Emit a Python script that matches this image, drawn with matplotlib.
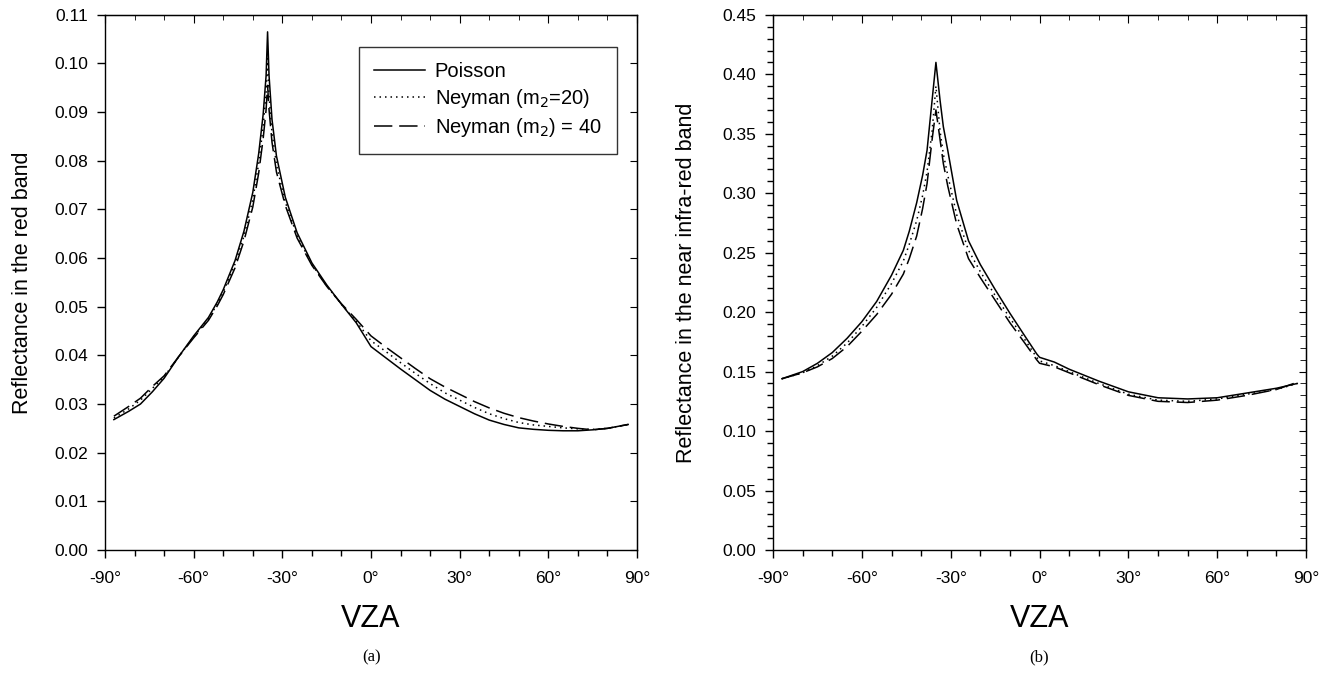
import numpy as np
import matplotlib
matplotlib.use('Agg')
import matplotlib.pyplot as plt
from matplotlib.ticker import MultipleLocator, FuncFormatter

plt.rc('font', family=['Liberation Sans', 'DejaVu Sans'], size=12)

# ---- (a) red band ----
vza_red = [-87, -82, -78, -74, -70, -65, -60, -55, -52, -50, -46, -43, -40, -38,
           -36.5, -35.5, -35, -34.5, -33.5, -32, -29, -25, -20, -15, -10, -5, 0,
           5, 10, 15, 20, 25, 30, 35, 40, 45, 50, 55, 60, 65, 70, 75, 80, 87]
red_poisson = [0.0268, 0.0285, 0.0300, 0.0325, 0.0353, 0.0398, 0.0440, 0.0478, 0.0510,
               0.0535, 0.0595, 0.0655, 0.0735, 0.0815, 0.0895, 0.0975, 0.1065, 0.0975,
               0.0885, 0.0810, 0.0725, 0.0652, 0.0590, 0.0545, 0.0505, 0.0467, 0.0418,
               0.0395, 0.0372, 0.0350, 0.0328, 0.0310, 0.0295, 0.0280, 0.0267, 0.0258,
               0.0251, 0.0248, 0.0246, 0.0245, 0.0245, 0.0247, 0.0250, 0.0258]
red_ney20 = [0.0271, 0.0290, 0.0308, 0.0332, 0.0356, 0.0398, 0.0438, 0.0475, 0.0506,
             0.0530, 0.0588, 0.0645, 0.0720, 0.0795, 0.0870, 0.0940, 0.1010, 0.0935,
             0.0858, 0.0792, 0.0715, 0.0646, 0.0587, 0.0543, 0.0505, 0.0470, 0.0430,
             0.0408, 0.0385, 0.0363, 0.0342, 0.0323, 0.0308, 0.0293, 0.0280, 0.0270,
             0.0262, 0.0257, 0.0254, 0.0251, 0.0249, 0.0248, 0.0250, 0.0258]
red_ney40 = [0.0275, 0.0295, 0.0312, 0.0336, 0.0358, 0.0398, 0.0436, 0.0472, 0.0502,
             0.0525, 0.0580, 0.0635, 0.0705, 0.0775, 0.0845, 0.0905, 0.0955, 0.0905,
             0.0838, 0.0777, 0.0708, 0.0641, 0.0585, 0.0542, 0.0506, 0.0474, 0.0440,
             0.0417, 0.0395, 0.0373, 0.0352, 0.0335, 0.0320, 0.0305, 0.0292, 0.0281,
             0.0272, 0.0265, 0.0259, 0.0254, 0.0250, 0.0247, 0.0250, 0.0258]

# ---- (b) near infra-red band ----
vza_nir = [-87, -80, -75, -70, -65, -60, -55, -50, -46, -44, -41.5, -39.5, -38, -36.3,
           -35, -33.6, -32.5, -31, -28, -24, -20, -15, -10, -5, -1, 0, 5, 10, 20, 30,
           40, 50, 60, 70, 80, 87]
nir_poisson = [0.144, 0.150, 0.157, 0.166, 0.178, 0.192, 0.209, 0.231, 0.252, 0.268,
               0.292, 0.315, 0.336, 0.378, 0.410, 0.378, 0.356, 0.336, 0.294, 0.260,
               0.240, 0.219, 0.199, 0.180, 0.165, 0.162, 0.158, 0.152, 0.142, 0.133,
               0.128, 0.127, 0.128, 0.132, 0.136, 0.140]
nir_ney20 = [0.144, 0.149, 0.155, 0.163, 0.174, 0.188, 0.204, 0.224, 0.243, 0.257,
             0.277, 0.298, 0.318, 0.352, 0.390, 0.352, 0.333, 0.315, 0.282, 0.252,
             0.234, 0.214, 0.195, 0.177, 0.162, 0.159, 0.155, 0.150, 0.140, 0.131,
             0.126, 0.125, 0.127, 0.131, 0.135, 0.140]
nir_ney40 = [0.144, 0.149, 0.154, 0.161, 0.171, 0.184, 0.198, 0.215, 0.232, 0.245,
             0.264, 0.287, 0.308, 0.345, 0.370, 0.345, 0.325, 0.306, 0.274, 0.245,
             0.229, 0.210, 0.191, 0.174, 0.160, 0.157, 0.154, 0.149, 0.139, 0.130,
             0.125, 0.124, 0.126, 0.130, 0.135, 0.141]

labels = ['Poisson', 'Neyman (m$_2$=20)', 'Neyman (m$_2$) = 40']
styles = ['-', (0, (1, 2.6)), (0, (12, 4.5))]

fig = plt.figure(figsize=(13.31, 6.8), dpi=100)
ax1 = fig.add_axes([0.0789, 0.1912, 0.3997, 0.787])
ax2 = fig.add_axes([0.5808, 0.1912, 0.4005, 0.787])

deg = FuncFormatter(lambda v, p: '%d\u00b0' % v)


def style_axes(ax, ymax, ymaj, ymin, ylab, ylab_x):
    ax.set_xlim(-90, 90)
    ax.set_ylim(0, ymax)
    ax.xaxis.set_major_locator(MultipleLocator(30))
    ax.xaxis.set_minor_locator(MultipleLocator(10))
    ax.xaxis.set_major_formatter(deg)
    ax.yaxis.set_major_locator(MultipleLocator(ymaj))
    ax.yaxis.set_major_formatter(FuncFormatter(lambda v, p: '%.2f' % v))
    if ymin:
        ax.yaxis.set_minor_locator(MultipleLocator(ymin))
    ax.tick_params(which='major', direction='out', length=6, width=1, labelsize=12.5)
    ax.tick_params(axis='x', which='major', pad=9)
    ax.tick_params(axis='y', which='major', pad=6)
    ax.tick_params(which='minor', direction='out', length=4, width=1)
    for s in ax.spines.values():
        s.set_linewidth(1)
    # inward ticks on top and right, no labels
    top = ax.secondary_xaxis('top')
    top.xaxis.set_major_locator(MultipleLocator(30))
    top.xaxis.set_minor_locator(MultipleLocator(10))
    top.tick_params(which='major', direction='in', length=6, labeltop=False)
    top.tick_params(which='minor', direction='in', length=3.5)
    right = ax.secondary_yaxis('right')
    right.yaxis.set_major_locator(MultipleLocator(ymaj))
    if ymin:
        right.yaxis.set_minor_locator(MultipleLocator(ymin))
    right.tick_params(which='major', direction='in', length=5, labelright=False)
    right.tick_params(which='minor', direction='in', length=4)
    ax.set_xlabel('VZA', fontsize=22)
    ax.xaxis.set_label_coords(0.5, -0.101)
    ax.set_ylabel(ylab, fontsize=15.5)
    ax.yaxis.set_label_coords(ylab_x, 0.5)


for y, lab, ls in zip([red_poisson, red_ney20, red_ney40], labels, styles):
    ax1.plot(vza_red, y, color='black', lw=1.1, ls=ls, label=lab)
for y, ls in zip([nir_poisson, nir_ney20, nir_ney40], styles):
    ax2.plot(vza_nir, y, color='black', lw=1.1, ls=ls)

style_axes(ax1, 0.11, 0.01, None, 'Reflectance in the red band', -0.135)
style_axes(ax2, 0.45, 0.05, 0.01, 'Reflectance in the near infra-red band', -0.143)

leg = ax1.legend(loc='upper right', bbox_to_anchor=(0.962, 0.940), borderaxespad=0,
                 fontsize=14.5, frameon=True, fancybox=False, edgecolor='black',
                 handlelength=2.5, handletextpad=0.5, borderpad=0.75,
                 labelspacing=0.3)
leg.get_frame().set_linewidth(1)

fig.text(0.2788, 0.028, '(a)', ha='center', fontsize=12, family='Liberation Serif')
fig.text(0.781, 0.028, '(b)', ha='center', fontsize=12, family='Liberation Serif')

fig.savefig('out.png', dpi=100)
